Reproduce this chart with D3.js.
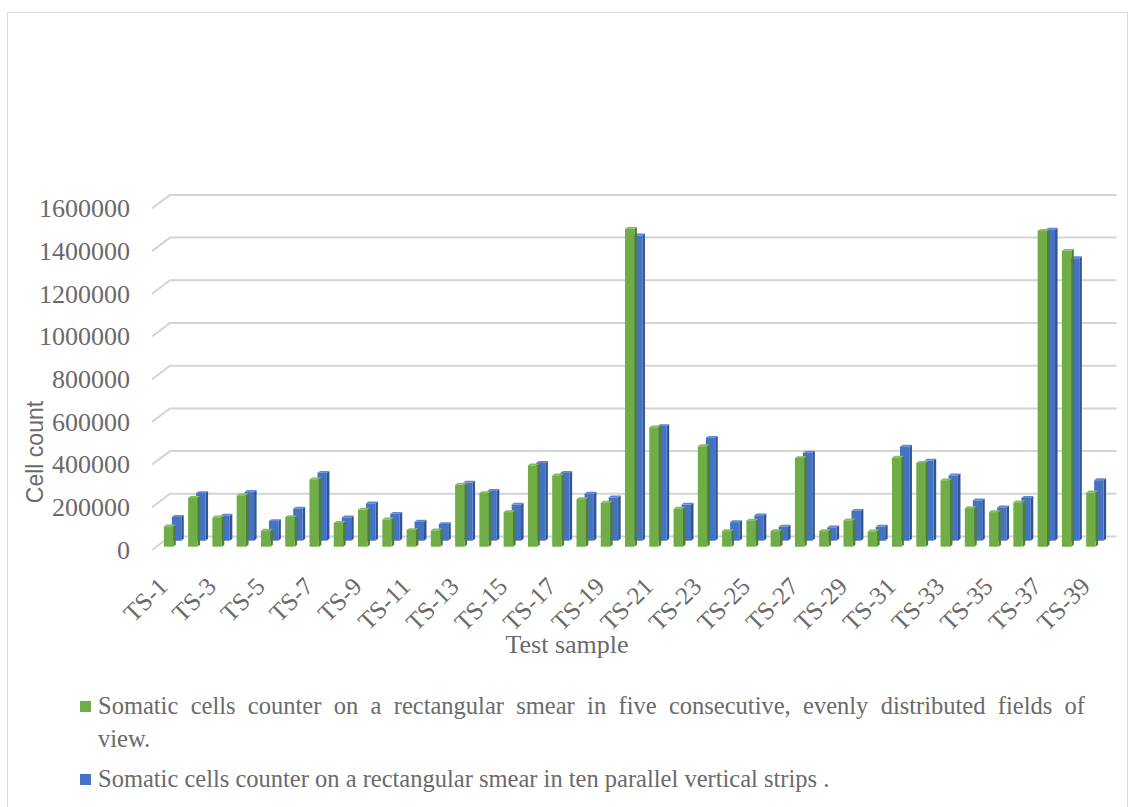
<!DOCTYPE html>
<html>
<head>
<meta charset="utf-8">
<script src="https://cdn.jsdelivr.net/npm/d3@7"></script>
<style>
  html, body { margin: 0; padding: 0; background: #fff; }
  svg { display: block; }
</style>
</head>
<body>
<svg id="chart" width="1134" height="807"></svg>
<script>
// ---- data ----
const categories = ["TS-1","TS-2","TS-3","TS-4","TS-5","TS-6","TS-7","TS-8","TS-9","TS-10",
  "TS-11","TS-12","TS-13","TS-14","TS-15","TS-16","TS-17","TS-18","TS-19","TS-20",
  "TS-21","TS-22","TS-23","TS-24","TS-25","TS-26","TS-27","TS-28","TS-29","TS-30",
  "TS-31","TS-32","TS-33","TS-34","TS-35","TS-36","TS-37","TS-38","TS-39"];

const fiveFields = [95000, 228000, 137000, 240000, 75000, 139000, 315000, 111000, 173000, 128000,
  78000, 76000, 290000, 251000, 162000, 381000, 334000, 223000, 206000, 1489000,
  559000, 178000, 471000, 73000, 122000, 73000, 415000, 73000, 123000, 72000,
  417000, 392000, 311000, 181000, 162000, 208000, 1479000, 1386000, 254000];

const tenStrips = [111000, 223000, 117000, 229000, 92000, 150000, 318000, 109000, 175000, 126000,
  89000, 78000, 272000, 233000, 169000, 364000, 317000, 220000, 203000, 1430000,
  537000, 169000, 482000, 87000, 119000, 66000, 412000, 62000, 140000, 66000,
  440000, 375000, 306000, 189000, 156000, 200000, 1457000, 1323000, 283000];

const seriesNames = [
  "Somatic cells counter on a rectangular smear in five consecutive, evenly distributed fields of view.",
  "Somatic cells counter on a rectangular smear in ten parallel vertical strips ."
];

const yTicks = [0, 200000, 400000, 600000, 800000, 1000000, 1200000, 1400000, 1600000];
const xTickLabels = ["TS-1","TS-3","TS-5","TS-7","TS-9","TS-11","TS-13","TS-15","TS-17","TS-19",
  "TS-21","TS-23","TS-25","TS-27","TS-29","TS-31","TS-33","TS-35","TS-37","TS-39"];

// ---- layout ----
const svg = d3.select("#chart");
const TEXT = "#6a6a6a";
const SERIF = "'Liberation Serif', 'Times New Roman', serif";

// front plane of the 3-D box
const left = 152, right = 1098.6;
const base = 550, topV = 208.4;
// oblique depth offset for the full depth of the box
const DX = 18, DY = -13.5;
const proj = (x, y, d) => [x + DX * d, y + DY * d];

const x = d3.scaleBand().domain(categories).range([left, right]).padding(0);
const y = d3.scaleLinear().domain([0, 1600000]).range([base, topV]);

// chart frame
svg.append("rect")
  .attr("x", 7.5).attr("y", 12.5).attr("width", 1120).attr("height", 810)
  .attr("fill", "none").attr("stroke", "#d9d9d9").attr("stroke-width", 1);

// gridlines: short slanted segment on the side wall, then along the back wall
const line = d3.line();
svg.append("g").selectAll("path").data(yTicks).join("path")
  .attr("d", v => line([proj(left, y(v), 0), proj(left, y(v), 1), proj(right, y(v), 1)]))
  .attr("fill", "none").attr("stroke", "#d4d4d4").attr("stroke-width", 2);

// y axis labels
const yAxis = svg.append("g").attr("transform", `translate(${left},0)`)
  .call(d3.axisLeft(y).tickValues(yTicks).tickSize(0).tickPadding(22).tickFormat(d3.format("d")));
yAxis.select(".domain").remove();
yAxis.selectAll("text").attr("fill", TEXT).style("font-family", SERIF).style("font-size", "26px");

// 3-D columns
const barW = 9.4, thick = 0.14;
const series = [
  { values: tenStrips, depth: 0.69, front: "#4472C4", side: "#2F5597", top: "#6189d3" },
  { values: fiveFields, depth: 0.245, front: "#70AD47", side: "#507E32", top: "#86bd62" }
];

function faces(cat, v, d0) {
  const x0 = x(cat) + (x.bandwidth() - barW) / 2, x1 = x0 + barW;
  const d1 = d0 + thick, yt = y(v), yb = y(0);
  return {
    side: [proj(x1, yt, d0), proj(x1, yt, d1), proj(x1, yb, d1), proj(x1, yb, d0)],
    top: [proj(x0, yt, d0), proj(x1, yt, d0), proj(x1, yt, d1), proj(x0, yt, d1)],
    front: [proj(x0, yt, d0), proj(x1, yt, d0), proj(x1, yb, d0), proj(x0, yb, d0)]
  };
}
const poly = pts => "M" + pts.map(p => p.join(",")).join("L") + "Z";

series.forEach(s => {
  const g = svg.append("g");
  const bars = g.selectAll("g").data(categories.map((c, i) => faces(c, s.values[i], s.depth))).join("g");
  bars.append("path").attr("d", f => poly(f.side)).attr("fill", s.side);
  bars.append("path").attr("d", f => poly(f.top)).attr("fill", s.top);
  bars.append("path").attr("d", f => poly(f.front)).attr("fill", s.front);
});

// x axis labels (every other category), rotated
const xAxis = svg.append("g").attr("transform", `translate(5,588)`)
  .call(d3.axisBottom(x).tickValues(xTickLabels).tickSize(0).tickPadding(0));
xAxis.select(".domain").remove();
xAxis.selectAll("text")
  .attr("fill", TEXT).style("font-family", SERIF).style("font-size", "25px")
  .attr("text-anchor", "end").attr("y", 0).attr("dy", 0)
  .attr("transform", "rotate(-45)");

// axis titles
svg.append("text").attr("x", 567).attr("y", 653).attr("text-anchor", "middle")
  .attr("fill", TEXT).style("font-family", SERIF).style("font-size", "26px").text("Test sample");

svg.append("text").attr("transform", "translate(43,452) rotate(-90)").attr("text-anchor", "middle")
  .attr("fill", TEXT).style("font-family", "'Liberation Sans', Arial, sans-serif").style("font-size", "23px")
  .text("Cell count");

// legend: wrapped entries, non-final lines justified across the legend width
const legendColors = ["#70AD47", "#4472C4"];
const legendRows = [714, 787];
const legendX = 98, legendWrap = 940, legendWidth = 987;
seriesNames.forEach((name, i) => {
  const g = svg.append("g");
  g.append("rect").attr("x", 80).attr("y", legendRows[i] - 13).attr("width", 11).attr("height", 11)
    .attr("fill", legendColors[i]);
  const t = g.append("text").attr("x", legendX).attr("y", legendRows[i])
    .attr("fill", TEXT).style("font-family", SERIF).style("font-size", "24.5px");
  const words = name.split(" ");
  const spans = [];
  let lineWords = [], tspan = t.append("tspan").attr("x", legendX).attr("dy", 0);
  spans.push(tspan);
  words.forEach(w => {
    lineWords.push(w);
    tspan.text(lineWords.join(" "));
    if (tspan.node().getComputedTextLength() > legendWrap && lineWords.length > 1) {
      lineWords.pop();
      tspan.text(lineWords.join(" "));
      lineWords = [w];
      tspan = t.append("tspan").attr("x", legendX).attr("dy", 33).text(w);
      spans.push(tspan);
    }
  });
  spans.slice(0, -1).forEach(sp => {
    const n = sp.text().split(" ").length - 1;
    const extra = (legendWidth - sp.node().getComputedTextLength()) / Math.max(n, 1);
    sp.style("word-spacing", extra + "px");
  });
});
</script>
</body>
</html>
